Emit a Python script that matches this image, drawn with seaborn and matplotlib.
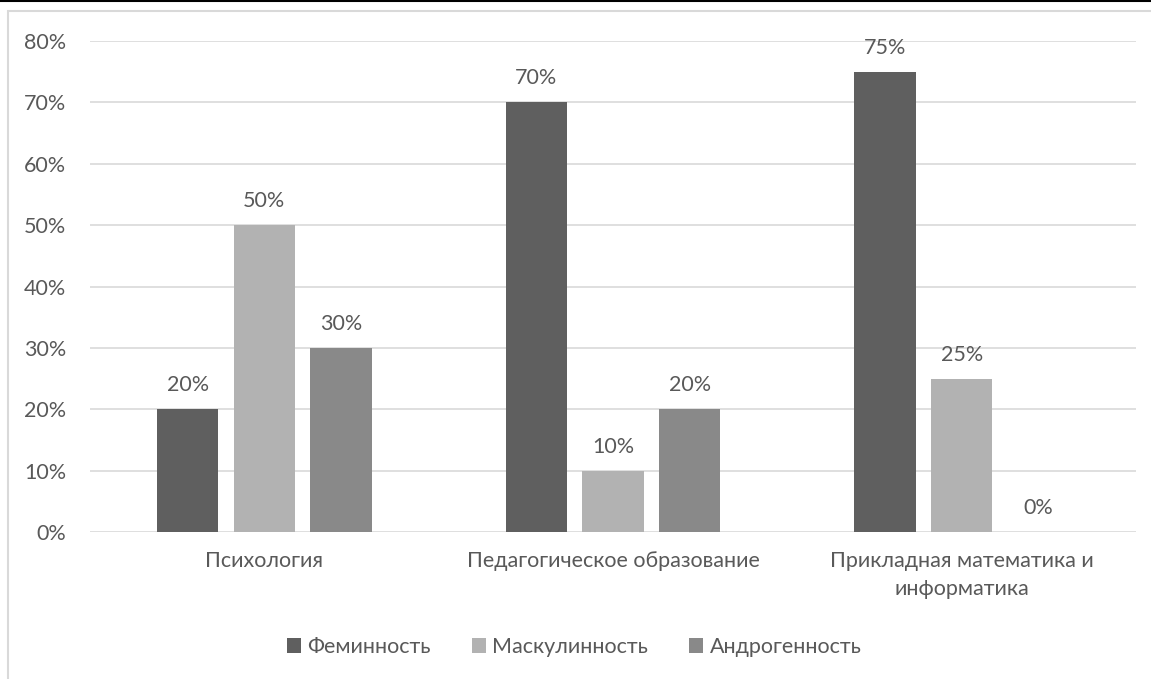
import pandas as pd
import matplotlib.pyplot as plt
import seaborn as sns
from matplotlib.patches import Rectangle
from matplotlib.lines import Line2D

# Data
categories = ['Психология', 'Педагогическое образование', 'Прикладная математика и\nинформатика']
series = ['Феминность', 'Маскулинность', 'Андрогенность']
feminine = [0.20, 0.70, 0.75]
masculine = [0.50, 0.10, 0.25]
androgyny = [0.30, 0.20, 0.00]
colors = ['#5f5f5f', '#b2b2b2', '#898989']

df = pd.DataFrame({
    'category': categories * 3,
    'series': [series[0]] * 3 + [series[1]] * 3 + [series[2]] * 3,
    'value': feminine + masculine + androgyny,
})

sns.set_style('white')
plt.rcParams['font.family'] = ['Lato', 'DejaVu Sans']
text_color = '#595959'
fs = 15.5

fig = plt.figure(figsize=(11.51, 6.79), dpi=100)
ax = fig.add_axes([0.0782, 0.2165, 0.9088, 0.7231])

sns.barplot(data=df, x='category', y='value', hue='series', palette=colors,
            width=0.66, gap=0.2, linewidth=0, ax=ax, legend=True)

ax.set_ylim(0, 0.8)
ax.set_xlim(-0.5, 2.5)
ax.set_yticks([i / 10 for i in range(9)])
ax.set_yticklabels([f'{i * 10}%' for i in range(9)], color=text_color, fontsize=fs)
ax.tick_params(axis='y', length=0, pad=17)
ax.tick_params(axis='x', length=0, pad=14, labelsize=fs, labelcolor=text_color)
for lab in ax.get_xticklabels():
    lab.set_linespacing(1.45)
ax.yaxis.grid(True, color='#d9d9d9', linewidth=1.2)
ax.set_axisbelow(True)
for s in ax.spines.values():
    s.set_visible(False)
ax.set_xlabel('')
ax.set_ylabel('')

# Value labels
for cont in ax.containers:
    ax.bar_label(cont, labels=[f'{v * 100:.0f}%' for v in cont.datavalues],
                 padding=10, color=text_color, fontsize=fs)

ax.legend(loc='center', bbox_to_anchor=(0.499, 0.047), bbox_transform=fig.transFigure,
          ncol=3, frameon=False, fontsize=fs, handlelength=0.65, handleheight=0.65,
          handletextpad=0.3, columnspacing=1.9, labelcolor=text_color)

# Chart border and top line
fig.add_artist(Rectangle((8 / 1151, -0.05), 1.2, (679 - 11) / 679 + 0.05,
                         transform=fig.transFigure, fill=False, edgecolor='#d9d9d9', linewidth=1.5))
fig.add_artist(Line2D([0, 1], [0.9985, 0.9985], transform=fig.transFigure, color='black', linewidth=1.5))

fig.savefig('out.png', dpi=100)
